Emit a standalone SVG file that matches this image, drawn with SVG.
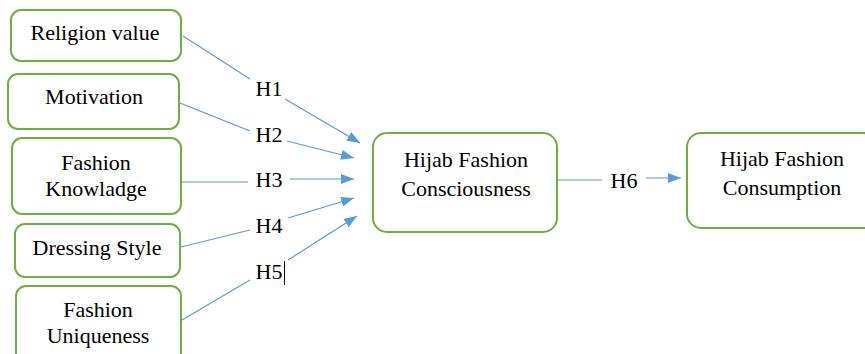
<svg xmlns="http://www.w3.org/2000/svg" width="865" height="354" viewBox="0 0 865 354">
<style>
.box{fill:#fff;stroke:#70ad47;stroke-width:2}
.t{font-family:'Liberation Serif','Times New Roman',serif;font-size:22px;fill:#000;text-anchor:middle}
.c{stroke:#5b9bd5;stroke-width:1.2;fill:none}
</style>
<defs>
<marker id="ah" markerUnits="userSpaceOnUse" markerWidth="14" markerHeight="10" refX="13" refY="5" orient="auto">
<path d="M0,0 L13,5 L0,10 Z" fill="#5b9bd5"/>
</marker>
</defs>
<rect width="865" height="354" fill="#fff"/>
<g id="n1"><rect class="box" x="11" y="10" width="170" height="51" rx="10"/><text class="t" x="95" y="40">Religion value</text></g>
<g id="n2"><rect class="box" x="8" y="74" width="171" height="55" rx="10"/><text class="t" x="94" y="104">Motivation</text></g>
<g id="n3"><rect class="box" x="12" y="138" width="169" height="76" rx="10"/><text class="t" x="96" y="170">Fashion</text><text class="t" x="96" y="196">Knowladge</text></g>
<g id="n4"><rect class="box" x="15" y="224" width="165" height="53" rx="10"/><text class="t" x="97" y="255">Dressing Style</text></g>
<g id="n5"><rect class="box" x="16" y="286" width="165" height="80" rx="10"/><text class="t" x="98" y="317">Fashion</text><text class="t" x="98" y="343">Uniqueness</text></g>
<g id="n6"><rect class="box" x="373" y="133" width="184" height="99" rx="14"/><text class="t" x="466" y="167">Hijab Fashion</text><text class="t" x="466" y="196">Consciousness</text></g>
<g id="n7"><rect class="box" x="687" y="133" width="190" height="95" rx="14"/><text class="t" x="782" y="166">Hijab Fashion</text><text class="t" x="782" y="195">Consumption</text></g>
<g id="connectors">
<path class="c" d="M183,36 L250,79"/><path class="c" d="M285,99 L360,143" marker-end="url(#ah)"/>
<path class="c" d="M180,103 L250,131"/><path class="c" d="M287,141 L354,158" marker-end="url(#ah)"/>
<path class="c" d="M181,182 L248,182"/><path class="c" d="M290,179 L354,179" marker-end="url(#ah)"/>
<path class="c" d="M181,247 L250,230"/><path class="c" d="M288,218 L354,198" marker-end="url(#ah)"/>
<path class="c" d="M182,320 L250,280"/><path class="c" d="M288,260 L357,216" marker-end="url(#ah)"/>
<path class="c" d="M558,180 L602,180"/><path class="c" d="M646,178 L681,178" marker-end="url(#ah)"/>
</g>
<g id="labels">
<text class="t" x="269" y="96">H1</text>
<text class="t" x="269" y="142">H2</text>
<text class="t" x="269" y="187">H3</text>
<text class="t" x="269" y="233">H4</text>
<text class="t" x="269" y="279">H5</text>
<line x1="284.5" y1="261" x2="284.5" y2="285" stroke="#000" stroke-width="1"/>
<text class="t" x="624" y="188">H6</text>
</g>
</svg>
